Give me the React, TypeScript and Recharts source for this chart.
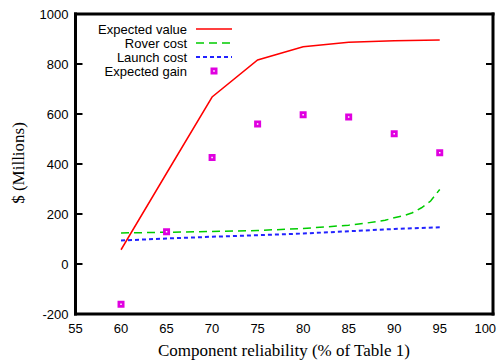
import React from 'react';
import { ComposedChart, Line, Scatter, XAxis, YAxis, Legend } from 'recharts';

const reliability = [60, 65, 70, 75, 80, 85, 90, 95];
const expectedValue = [57, 363, 668, 816, 869, 887, 893, 896];
const expectedGain = [-161, 129, 426, 560, 597, 588, 521, 445];
const launchCost = [94, 102, 109, 115, 122, 131, 140, 147];
const roverReliability = [60, 65, 70, 75, 80, 85, 87, 89, 90, 91, 92, 93, 94, 95];
const roverCost = [124, 127, 130, 134, 142, 155, 164, 175, 185, 193, 205, 225, 252, 298];
const xTicks = [55, 60, 65, 70, 75, 80, 85, 90, 95, 100];
const yTicks = [-200, 0, 200, 400, 600, 800, 1000];

const valueData = reliability.map((x, i) => ({ x, y: expectedValue[i] }));
const gainData = reliability.map((x, i) => ({ x, y: expectedGain[i] }));
const launchData = reliability.map((x, i) => ({ x, y: launchCost[i] }));
const roverData = roverReliability.map((x, i) => ({ x, y: roverCost[i] }));

const X_DOMAIN: [number, number] = [55, 100.85];
const Y_DOMAIN: [number, number] = [-200, 1000];

const sans = 'Liberation Sans, Arial, sans-serif';
const serif = 'Liberation Serif, Times New Roman, serif';
const RED = '#ff0000';
const GREEN = '#00cc00';
const BLUE = '#2222ff';
const MAGENTA = '#e000e0';

const tickStyle = { fontFamily: sans, fontSize: 13, fill: '#000' };
const border = { stroke: '#000', strokeWidth: 3, strokeLinecap: 'square' as const };
const tickLn = { stroke: '#000', strokeWidth: 2 };
const EmptyTick = () => <g />;

const SquareMark = (props: any) => {
  const { cx, cy } = props;
  if (cx == null || cy == null) return null;
  return (
    <g>
      <rect x={cx - 3.5} y={cy - 3.5} width={7} height={7} fill={MAGENTA} />
      <rect x={cx - 0.75} y={cy - 0.75} width={1.5} height={1.5} fill="#fff" />
    </g>
  );
};

const legendItems = [
  { label: 'Expected value', kind: 'solid', color: RED },
  { label: 'Rover cost', kind: 'dash', color: GREEN },
  { label: 'Launch cost', kind: 'dot', color: BLUE },
  { label: 'Expected gain', kind: 'point', color: MAGENTA },
];

const renderLegend = () => (
  <svg width={260} height={90} style={{ display: 'block' }}>
    {legendItems.map((it, i) => {
      const y = 29 + i * 14;
      return (
        <g key={it.label}>
          <text x={187} y={y + 4.5} textAnchor="end" fontFamily={sans} fontSize={13} fill="#000">
            {it.label}
          </text>
          {it.kind === 'solid' && <line x1={196} x2={232} y1={y} y2={y} stroke={it.color} strokeWidth={1.5} />}
          {it.kind === 'dash' && (
            <line x1={196} x2={232} y1={y} y2={y} stroke={it.color} strokeWidth={1.5} strokeDasharray="8 5" />
          )}
          {it.kind === 'dot' && (
            <line x1={196} x2={232} y1={y} y2={y} stroke={it.color} strokeWidth={2} strokeDasharray="4 3" />
          )}
          {it.kind === 'point' && <SquareMark cx={214} cy={y} />}
        </g>
      );
    })}
  </svg>
);

export default function App() {
  return (
    <div style={{ position: 'absolute', left: 0, top: 0, width: 498, height: 362, background: '#fff' }}>
      <ComposedChart width={498} height={362} margin={{ top: 14, right: 5, bottom: 0, left: 0 }}>
        <XAxis
          xAxisId="b"
          dataKey="x"
          type="number"
          domain={X_DOMAIN}
          ticks={xTicks}
          allowDataOverflow
          height={48}
          tickLine={false}
          axisLine={false}
          tickSize={0}
          tickMargin={10}
          tick={tickStyle}
          label={{
            content: (p: any) => {
              const vb = p.viewBox || {};
              return (
                <text x={284} y={(vb.y || 314) + 42} textAnchor="middle" fontFamily={serif} fontSize={17} fill="#000">
                  Component reliability (% of Table 1)
                </text>
              );
            },
          }}
        />
        <XAxis
          xAxisId="bt"
          orientation="bottom"
          mirror
          type="number"
          domain={X_DOMAIN}
          ticks={xTicks}
          allowDataOverflow
          height={10}
          tick={EmptyTick}
          tickSize={7}
          tickLine={tickLn}
          axisLine={border}
        />
        <XAxis
          xAxisId="tt"
          orientation="top"
          mirror
          type="number"
          domain={X_DOMAIN}
          ticks={xTicks}
          allowDataOverflow
          height={10}
          tick={EmptyTick}
          tickSize={7}
          tickLine={tickLn}
          axisLine={border}
        />
        <YAxis
          yAxisId="l"
          type="number"
          domain={Y_DOMAIN}
          ticks={yTicks}
          allowDataOverflow
          width={75.5}
          tickLine={false}
          axisLine={false}
          tickSize={0}
          tickMargin={7}
          tick={tickStyle}
          label={{
            content: () => (
              <text
                x={24}
                y={163}
                textAnchor="middle"
                fontFamily={serif}
                fontSize={17}
                fill="#000"
                transform="rotate(-90 24 163)"
              >
                $ (Millions)
              </text>
            ),
          }}
        />
        <YAxis
          yAxisId="lt"
          orientation="left"
          mirror
          type="number"
          domain={Y_DOMAIN}
          ticks={yTicks}
          allowDataOverflow
          width={10}
          tick={EmptyTick}
          tickSize={7}
          tickLine={tickLn}
          axisLine={border}
        />
        <YAxis
          yAxisId="rt"
          orientation="right"
          mirror
          type="number"
          domain={Y_DOMAIN}
          ticks={yTicks}
          allowDataOverflow
          width={10}
          tick={EmptyTick}
          tickSize={7}
          tickLine={tickLn}
          axisLine={border}
        />
        <Legend
          layout="horizontal"
          verticalAlign="middle"
          align="center"
          content={renderLegend}
          wrapperStyle={{ position: 'absolute', left: 0, top: 0, width: 260, height: 90 }}
        />
        <Line
          xAxisId="b"
          yAxisId="l"
          data={valueData}
          dataKey="y"
          type="linear"
          stroke={RED}
          strokeWidth={1.5}
          dot={false}
          activeDot={false}
          isAnimationActive={false}
        />
        <Line
          xAxisId="b"
          yAxisId="l"
          data={roverData}
          dataKey="y"
          type="linear"
          stroke={GREEN}
          strokeWidth={1.5}
          strokeDasharray="8 5"
          dot={false}
          activeDot={false}
          isAnimationActive={false}
        />
        <Line
          xAxisId="b"
          yAxisId="l"
          data={launchData}
          dataKey="y"
          type="linear"
          stroke={BLUE}
          strokeWidth={2}
          strokeDasharray="4 3"
          dot={false}
          activeDot={false}
          isAnimationActive={false}
        />
        <Scatter
          xAxisId="b"
          yAxisId="l"
          data={gainData}
          dataKey="y"
          fill={MAGENTA}
          shape={SquareMark}
          isAnimationActive={false}
        />
      </ComposedChart>
    </div>
  );
}
